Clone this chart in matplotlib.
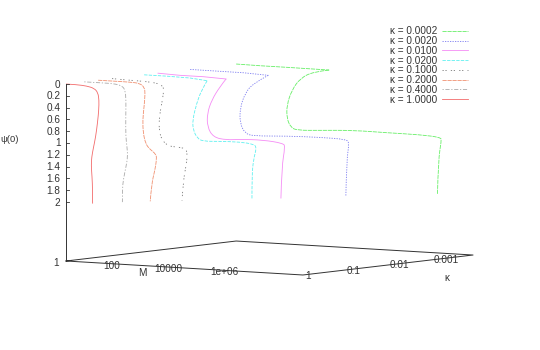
import numpy as np
from matplotlib import pyplot as plt
from matplotlib.path import Path
from matplotlib.patches import PathPatch

plt.rcParams['font.family'] = ['Liberation Sans', 'DejaVu Sans']

kappas = [0.0002, 0.002, 0.01, 0.02, 0.1, 0.2, 0.4, 1.0]
kappa_labels = ['0.0002', '0.0020', '0.0100', '0.0200', '0.1000', '0.2000', '0.4000', '1.0000']

# log10(M) and psi(0)
logm_00002 = [0, .86, 1.81, 3.32, 2.76, 2.29, 1.99, 1.81, 1.81, 1.95, 2.17, 3.0, 4.19, 5.38, 6.57, 7.31, 7.33, 7.22, 7.19]
psi_00002 = [0, .005, .005, .009, .053, .178, .385, .644, .87, 1.018, 1.063, 1.04, 1.006, 1.014, 1.014, 1.038, 1.095, 1.425, 2.0]
logm_0002 = [0, 1.06, 1.9, 2.79, 2.25, 1.96, 1.78, 1.78, 1.96, 2.25, 3.45, 4.64, 5.59, 5.68, 5.59, 5.56]
psi_0002 = [0, .002, .003, .022, .173, .35, .61, .864, 1.028, 1.066, 1.032, 1.021, 1.028, 1.093, 1.379, 2.0]
logm_001 = [0, .79, 1.62, 2.43, 2.21, 1.92, 1.76, 1.76, 1.975, 2.45, 2.93, 3.76, 4.475, 4.54, 4.42, 4.39]
psi_001 = [0, .014, .014, .03, .167, .4, .63, .857, 1.031, 1.063, 1.038, 1.027, 1.063, 1.119, 1.461, 2.0]
logm_002 = [0, .8, 1.64, 2.25, 2.05, 1.875, 1.73, 1.75, 1.9, 2.11, 2.71, 3.42, 3.9, 4.02, 3.9, 3.85, 3.85]
psi_002 = [0, 0, .008, .037, .2, .43, .718, .886, 1.023, 1.068, 1.051, 1.043, 1.064, 1.116, 1.335, 1.619, 2.0]
logm_01 = [0, .525, 1.12, 1.6, 1.81, 1.85, 1.8, 1.69, 1.68, 1.78, 2.01, 2.31, 2.61, 2.7, 2.64, 2.55, 2.5]
psi_01 = [0, .009, .014, .03, .07, .142, .312, .598, .824, .991, 1.086, 1.095, 1.108, 1.19, 1.419, 1.647, 2.0]
logm_02 = [0, .54, 1.14, 1.49, 1.65, 1.68, 1.64, 1.59, 1.61, 1.7, 1.85, 2.06, 2.09, 2.03, 1.91, 1.86]
psi_02 = [0, 0, 0, .011, .074, .175, .403, .63, .855, 1.034, 1.119, 1.193, 1.265, 1.465, 1.694, 2.0]
logm_04 = [0, .56, 1.04, 1.34, 1.46, 1.49, 1.48, 1.48, 1.525, 1.55, 1.49, 1.39, 1.36, 1.36]
psi_04 = [0, 0, 0, .028, .097, .266, .549, .888, 1.056, 1.225, 1.396, 1.625, 1.795, 2.0]
logm_1 = [0, .38, .74, 1.01, 1.14, 1.18, 1.17, 1.13, 1.06, .975, .92, .9, .93, .95, .95]
psi_1 = [0, 0, .013, .045, .115, .238, .408, .607, .864, 1.063, 1.207, 1.347, 1.546, 1.77, 2.0]

curves_logm = [logm_00002, logm_0002, logm_001, logm_002, logm_01, logm_02, logm_04, logm_1]
curves_psi = [psi_00002, psi_0002, psi_001, psi_002, psi_01, psi_02, psi_04, psi_1]
# sharp reversal on the upper branch, 0 where the curve has none
tips = [3, 3, 3, 3, 0, 0, 0, 0]

colors = ['#66ee66', '#7a7af0', '#f58cf5', '#5ff0f0', '#777777', '#f09070', '#aaaaaa', '#f26a6a']
dashes = [(5, 1), (1.5, 1.5), None, (4, 1.5), (1.5, 2, 1.5, 5), (5, 1), (1.5, 2, 5, 2), None]

psi_ticks = [0, 0.2, 0.4, 0.6, 0.8, 1, 1.2, 1.4, 1.6, 1.8, 2]
m_ticks = [0, 2, 4, 6]
m_tick_labels = ['1', '100', '10000', '1e+06']
k_ticks = [1, 0.1, 0.01, 0.001]
k_tick_labels = ['1', '0.1', '0.01', '0.001']
logm_max = 8.46
psi_max = 3
kappa_min = 0.0002
dark = '#333333'


# gnuplot style splot: fixed parallel projection to picture pixels
def proj(logm, kappa, psi):
    logm = np.asarray(logm, dtype=float)
    psi = np.asarray(psi, dtype=float)
    dec = -np.log10(kappa)
    x = 66 + 28 * logm + 46 * dec
    y = 84 + 59 * psi + 1.654 * logm - 5.4 * dec
    return x, y


def smooth_patch(x, y, color, dash):
    # quadratic pieces through segment midpoints, ends stay on the curve
    pts = np.column_stack([x, y])
    verts = [pts[0]]
    codes = [Path.MOVETO]
    for i in range(1, len(pts) - 1):
        end = pts[i + 1] if i == len(pts) - 2 else (pts[i] + pts[i + 1]) / 2
        verts += [pts[i], end]
        codes += [Path.CURVE3, Path.CURVE3]
    patch = PathPatch(Path(verts, codes), fill=False, edgecolor=color, lw=0.6)
    if dash is not None:
        patch.set_linestyle((0, dash))
    return patch


fig = plt.figure(figsize=(5.4, 3.5), dpi=100)
ax = fig.add_axes([0, 0, 1, 1])
ax.set_xlim(0, 540)
ax.set_ylim(350, 0)
ax.axis('off')

# --- Base plane ---
base_m = [0, logm_max, logm_max, 0, 0]
base_k = [1, 1, kappa_min, kappa_min, 1]
bx = [float(proj(m, k, psi_max)[0]) for m, k in zip(base_m, base_k)]
by = [float(proj(m, k, psi_max)[1]) for m, k in zip(base_m, base_k)]
ax.plot(bx, by, color=dark, lw=0.7)

# --- Vertical axis ---
zx, zy = proj([0, 0], 1, [0, psi_max])
ax.plot(zx, zy, color=dark, lw=0.7)
for t in psi_ticks:
    tx, ty = proj(0, 1, t)
    ax.plot([tx, tx + 3], [ty, ty], color=dark, lw=0.6)
    ax.text(tx - 5.5, ty + 0.5, str(t), ha='right', va='center', fontsize=7.2, color=dark)
ax.text(0, 140, 'ψ(0)', ha='left', va='center', fontsize=6.8, color=dark)

# --- Base axis labels ---
for t, lab in zip(m_ticks, m_tick_labels):
    tx, ty = proj(t, 1, psi_max)
    ax.text(tx - 10, ty + 1.5, lab, ha='center', va='center', fontsize=7.2, color=dark)
for t, lab in zip(k_ticks, k_tick_labels):
    tx, ty = proj(logm_max, t, psi_max)
    ax.text(tx + 5, ty + 1, lab, ha='center', va='center', fontsize=7.2, color=dark)
ax.text(142, 273, 'M', ha='center', va='center', fontsize=7.2, color=dark)
ax.text(447, 278, 'κ', ha='center', va='center', fontsize=7.2, color=dark)

# --- Curves and key ---
for i in range(len(kappas)):
    x, y = proj(curves_logm[i], kappas[i], curves_psi[i])
    tip = tips[i]
    if tip > 0:
        ax.plot(x[:tip + 1], y[:tip + 1], color=colors[i], lw=0.6,
                dashes=dashes[i] if dashes[i] is not None else (None, None))
    ax.add_patch(smooth_patch(x[tip:], y[tip:], colors[i], dashes[i]))
    key_y = 31 + i * 9.74
    key, = ax.plot([442, 467.5], [key_y, key_y], color=colors[i], lw=0.6)
    if dashes[i] is not None:
        key.set_dashes(dashes[i])
    ax.text(437, key_y + 0.5, f'κ = {kappa_labels[i]}', ha='right', va='center', fontsize=7.2, color=dark)

fig.savefig('out.png', dpi=100)
